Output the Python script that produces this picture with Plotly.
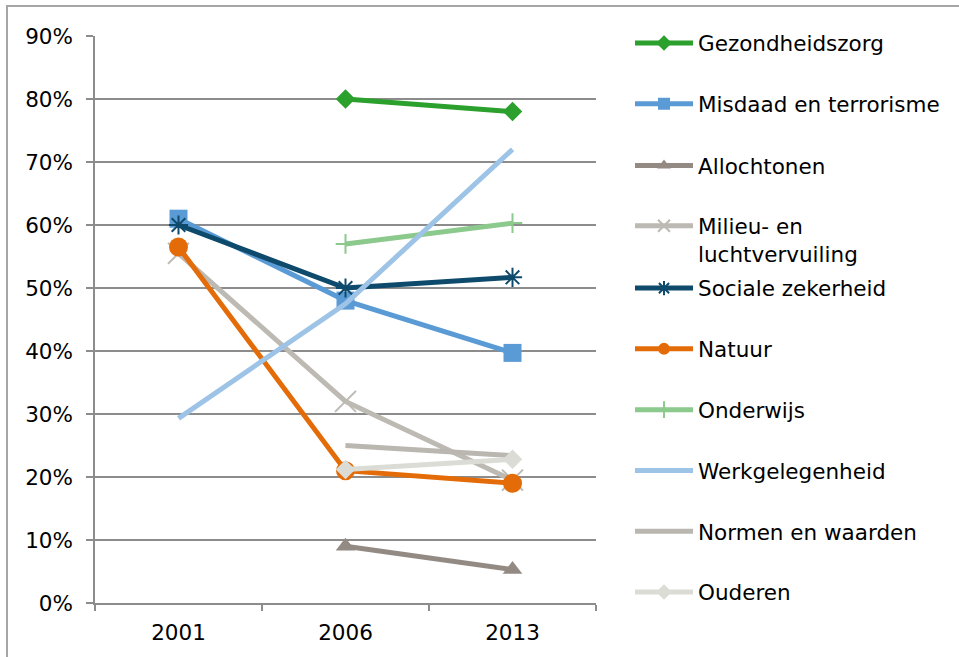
import plotly.graph_objects as go

years = ["2001", "2006", "2013"]
y_ticks = [0, 0.1, 0.2, 0.3, 0.4, 0.5, 0.6, 0.7, 0.8, 0.9]

gezondheidszorg = [None, 0.80, 0.78]
misdaad = [0.61, 0.48, 0.397]
allochtonen = [None, 0.09, 0.053]
milieu = [0.555, 0.32, 0.195]
sociale = [0.60, 0.50, 0.517]
natuur = [0.565, 0.21, 0.19]
onderwijs = [None, 0.57, 0.603]
werk = [0.293, 0.475, 0.72]
normen = [None, 0.25, 0.234]
ouderen = [None, 0.212, 0.228]

series = [
    ("Gezondheidszorg", gezondheidszorg, "#2ca02c", "diamond", 15, 0),
    ("Misdaad en terrorisme", misdaad, "#5b9bd5", "square", 18, 0),
    ("Allochtonen", allochtonen, "#938a84", "triangle-up", 17, 0),
    ("Milieu- en<br>luchtvervuiling", milieu, "#bdb9b3", "x-thin-open", 21, 2),
    ("Sociale zekerheid", sociale, "#0e4a6b", "asterisk-open", 16, 2),
    ("Natuur", natuur, "#e36c09", "circle", 19, 0),
    ("Onderwijs", onderwijs, "#8cc98c", "cross-thin-open", 14, 2),
    ("Werkgelegenheid", werk, "#9dc3e6", None, 0, 0),
    ("Normen en waarden", normen, "#bab6b0", None, 0, 0),
    ("Ouderen", ouderen, "#dcdcd6", "diamond", 15, 0),
]

legend_centers_px = [43, 104, 166, 240.5, 289, 350, 411, 472, 533, 594]

FONT = "Verdana, DejaVu Sans, sans-serif"
L, R, T, B = 95, 596, 36, 605
W, H = 959, 657

def px_x(px):
    return (px - L) / (R - L)

def px_y(py):
    return (B - py) / (B - T)

fig = go.Figure()
layout_legends = {}
for i, (name, vals, color, sym, size, lw) in enumerate(series):
    lname = "legend" if i == 0 else f"legend{i+1}"
    kw = dict(
        x=years, y=vals, name=name, legend=lname,
        line=dict(color=color, width=5),
        connectgaps=False,
    )
    if sym:
        kw["mode"] = "lines+markers"
        kw["marker"] = dict(symbol=sym, size=size, color=color,
                            line=dict(color=color, width=lw))
    else:
        kw["mode"] = "lines"
    fig.add_trace(go.Scatter(**kw))
    layout_legends[lname] = dict(
        x=px_x(630), y=px_y(legend_centers_px[i]),
        xanchor="left", yanchor="middle",
        bgcolor="rgba(0,0,0,0)", itemwidth=58, itemsizing="constant",
        valign="top", itemclick=False, itemdoubleclick=False,
        font=dict(family=FONT, size=21.5, color="#000000"),
    )

fig.update_layout(
    width=W, height=H,
    margin=dict(l=L, r=W - R, t=T, b=H - B),
    paper_bgcolor="white", plot_bgcolor="white",
    font=dict(family=FONT, size=21, color="#000000"),
    showlegend=True,
    **layout_legends,
)
fig.update_xaxes(
    type="category", range=[-0.5, 2.5],
    showline=True, linecolor="#8c8c8c", linewidth=1.5,
    ticks="outside", tickson="boundaries", ticklen=6, tickcolor="#8c8c8c", tickwidth=1.5,
    showgrid=False, ticklabelstandoff=9,
    tickfont=dict(family=FONT, size=21.5, color="#000000"),
)
fig.update_yaxes(
    range=[0, 0.9], tickvals=y_ticks, tickformat=".0%",
    showline=True, linecolor="#8c8c8c", linewidth=1.5,
    ticks="outside", ticklen=7, tickcolor="#8c8c8c", tickwidth=1.5,
    showgrid=True, gridcolor="#8c8c8c", gridwidth=1.5,
    zeroline=False, ticklabelstandoff=9,
    tickfont=dict(family=FONT, size=21.5, color="#000000"),
)
fig.add_shape(type="rect", xref="paper", yref="paper",
              x0=px_x(7), x1=px_x(980), y0=px_y(680), y1=px_y(6),
              line=dict(color="#a6a6a6", width=2), fillcolor="rgba(0,0,0,0)", layer="below")

fig.write_html(
    "out.html",
    config={"displayModeBar": False},
    post_script="document.body.style.margin='0';document.body.style.overflow='hidden';",
)
